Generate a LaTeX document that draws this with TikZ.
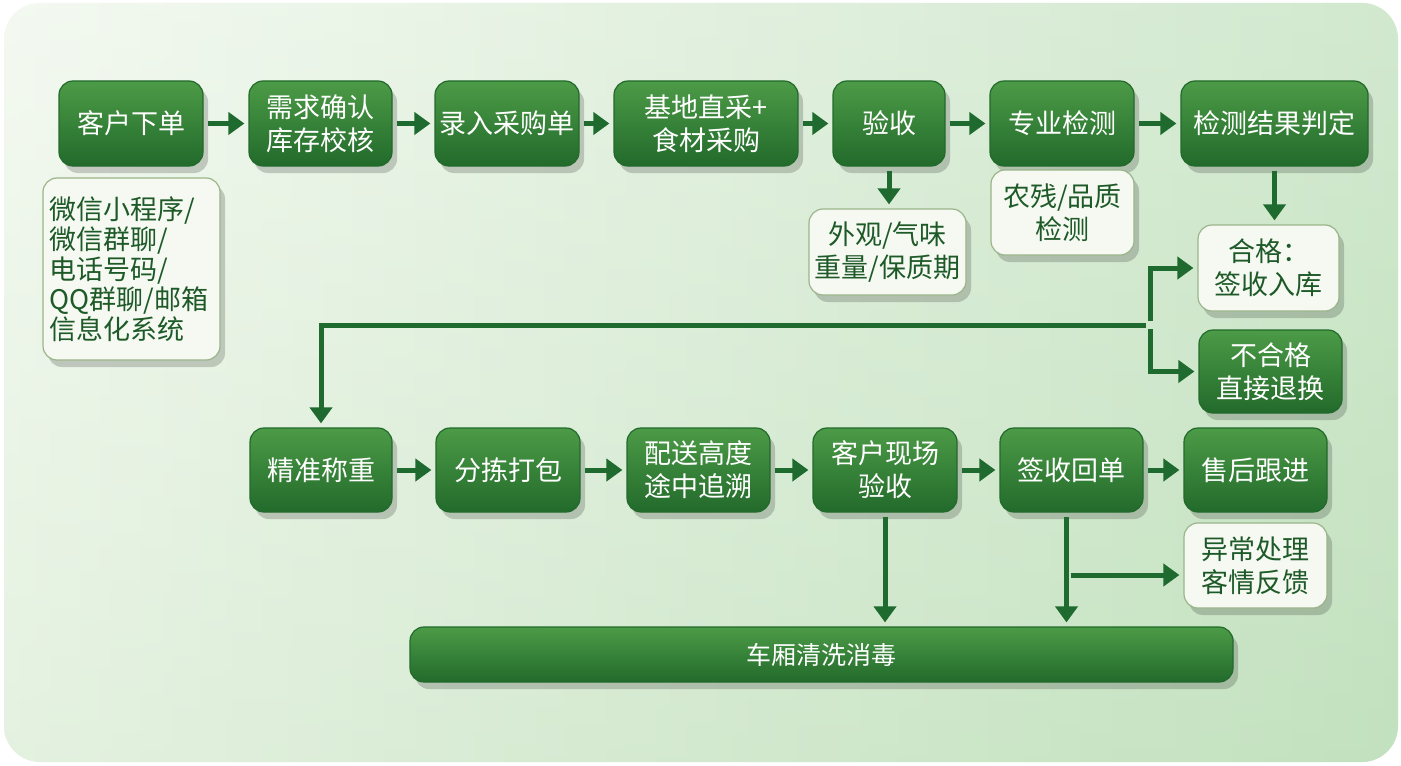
\documentclass[tikz,border=0pt]{standalone}
\usepackage{fontspec}
\setmainfont{Noto Sans CJK SC}
\usetikzlibrary{arrows.meta,shadows,calc}
\definecolor{dgtop}{HTML}{4C9B47}
\definecolor{dgbot}{HTML}{226A2B}
\definecolor{arr}{HTML}{1F6A2F}
\definecolor{wfill}{HTML}{F5F9F2}
\definecolor{wline}{HTML}{9AB58A}
\definecolor{wtext}{HTML}{1E5A28}
\definecolor{bgl}{HTML}{F0F7EC}
\definecolor{bgr}{HTML}{C2E1BE}
\tikzset{
  shad/.style={drop shadow={shadow xshift=2.5pt, shadow yshift=-3.5pt, opacity=0.18, fill=black}},
  gbox/.style={rounded corners=7pt, draw=dgbot, line width=0.6pt, top color=dgtop, bottom color=dgbot,
    text=white, font=\fontsize{13.5}{16.5}\selectfont, align=center, inner sep=0pt, shad},
  wbox/.style={rounded corners=7pt, draw=wline, line width=0.6pt, fill=wfill,
    text=wtext, font=\fontsize{13.5}{16.5}\selectfont, align=center, inner sep=0pt, shad},
  flow/.style={draw=arr, line width=2.5pt, -{Triangle[length=8pt,width=11pt]}, shorten >=2pt, shorten <=2pt},
  plain/.style={draw=arr, line width=2.5pt}
}
\begin{document}
\begin{tikzpicture}[x=0.5pt,y=-0.5pt]
\useasboundingbox (0,0) rectangle (1401,765);
\fill[white] (0,0) rectangle (1401,765);
\shade[rounded corners=18pt, left color=bgl, right color=bgr] (4,3) rectangle (1398,762);
\shade[rounded corners=18pt, top color=white, bottom color=bgr, opacity=0.25] (4,3) rectangle (1398,762);

% row 1
\node[gbox, minimum width=72pt, minimum height=42.5pt] (n1) at (131,123.5) {客户下单};
\node[gbox, minimum width=71.5pt, minimum height=42.5pt] (n2) at (320.5,123.5) {需求确认\\库存校核};
\node[gbox, minimum width=72pt, minimum height=42.5pt] (n3) at (507,123.5) {录入采购单};
\node[gbox, minimum width=92pt, minimum height=42.5pt] (n4) at (706,123.5) {基地直采+\\食材采购};
\node[gbox, minimum width=56pt, minimum height=42.5pt] (n5) at (889,123.5) {验收};
\node[gbox, minimum width=72pt, minimum height=42.5pt] (n6) at (1062,123.5) {专业检测};
\node[gbox, minimum width=93.5pt, minimum height=42.5pt] (n7) at (1274.5,123.5) {检测结果判定};

% sub boxes
\node[wbox, minimum width=88.5pt, minimum height=91pt, align=left, text width=82pt,
  font=\fontsize{13.5}{15}\selectfont] (s1) at (131.5,269)
  {微信小程序/\\微信群聊/\\电话号码/\\QQ群聊/邮箱\\信息化系统};
\node[wbox, minimum width=78.5pt, minimum height=43pt] (s5) at (887.5,252) {外观/气味\\重量/保质期};
\node[wbox, minimum width=71.5pt, minimum height=42.5pt] (s6) at (1062.5,212.5) {农残/品质\\检测};
\node[wbox, minimum width=70.5pt, minimum height=43pt] (hege) at (1268.5,268) {合格：\\签收入库};
\node[gbox, minimum width=71.5pt, minimum height=41.5pt] (buhege) at (1270.5,371.5) {不合格\\直接退换};

% row 2
\node[gbox, minimum width=71pt, minimum height=42pt] (m1) at (321,470) {精准称重};
\node[gbox, minimum width=72pt, minimum height=42pt] (m2) at (508,470) {分拣打包};
\node[gbox, minimum width=71.5pt, minimum height=42pt] (m3) at (698.5,470) {配送高度\\途中追溯};
\node[gbox, minimum width=72pt, minimum height=42pt] (m4) at (885,470) {客户现场\\验收};
\node[gbox, minimum width=71.5pt, minimum height=42pt] (m5) at (1071.5,470) {签收回单};
\node[gbox, minimum width=71.5pt, minimum height=42pt] (m6) at (1255.5,470) {售后跟进};
\node[wbox, minimum width=71.5pt, minimum height=42.5pt] (yc) at (1255.5,565.5) {异常处理\\客情反馈};
\node[gbox, minimum width=411.5pt, minimum height=27.5pt, font=\fontsize{12.5}{15}\selectfont] (bar) at (821.5,654.5) {车厢清洗消毒};

% connectors row 1
\draw[flow] (n1) -- (n2);
\draw[flow] (n2) -- (n3);
\draw[flow] (n3) -- (n4);
\draw[flow] (n4) -- (n5);
\draw[flow] (n5) -- (n6);
\draw[flow] (n6) -- (n7);
\draw[flow] (n5.south) -- (n5.south |- s5.north);
\draw[flow] (n7.south) -- (n7.south |- hege.north);

% branch
\coordinate (j) at (1150,325);
\draw[flow] (j) |- (hege.west);
\draw[flow] (j) |- (buhege.west);
\draw[flow] (j) -| (m1.north);

% connectors row 2
\draw[flow] (m1) -- (m2);
\draw[flow] (m2) -- (m3);
\draw[flow] (m3) -- (m4);
\draw[flow] (m4) -- (m5);
\draw[flow] (m5) -- (m6);
\draw[flow] (m4.south) -- (m4.south |- bar.north);
\coordinate (k0) at ($(m5.south)+(-5,0)$);
\draw[flow] (k0) -- (k0 |- bar.north);
\coordinate (k) at (k0 |- 0,575);
\draw[flow] (k) -- (k -| yc.west);
\end{tikzpicture}
\end{document}
